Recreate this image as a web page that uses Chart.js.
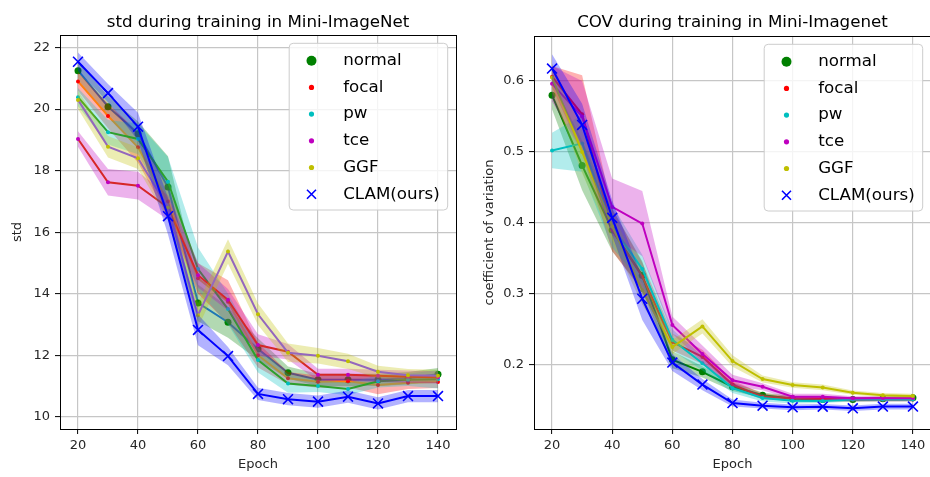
<!DOCTYPE html>
<html>
<head>
<meta charset="utf-8">
<script src="https://cdn.jsdelivr.net/npm/chart.js@4.4.0/dist/chart.umd.min.js"></script>
<style>
  html, body { margin: 0; padding: 0; background: #fff; overflow: hidden; }
  #wrap { position: relative; width: 930px; height: 477px; overflow: hidden; }
  canvas { position: absolute; top: 0; }
</style>
</head>
<body>
<div id="wrap">
  <canvas id="stdChart" width="465" height="477" style="left:0"></canvas>
  <canvas id="covChart" width="470" height="477" style="left:465px"></canvas>
</div>
<script>
// epochs and tick labels
const EPOCHS = [20, 30, 40, 50, 60, 70, 80, 90, 100, 110, 120, 130, 140];
const X_TICKS = [20, 40, 60, 80, 100, 120, 140];
const STD_Y_TICKS = [10, 12, 14, 16, 18, 20, 22];
const COV_Y_TICKS = [0.2, 0.3, 0.4, 0.5, 0.6];

const METHODS = ['normal', 'focal', 'pw', 'tce', 'GGF', 'CLAM(ours)'];

// std during training (mean line) + half width of shaded band
const STD_NORMAL = [21.25, 20.08, 19.2, 17.47, 13.7, 13.07, 12.2, 11.43, 11.2, 11.2, 11.2, 11.25, 11.38];
const STD_FOCAL  = [20.9, 19.78, 18.76, 17.0, 14.5, 13.74, 12.0, 11.25, 11.14, 11.15, 11.03, 11.1, 11.13];
const STD_PW     = [20.39, 19.25, 19.03, 17.64, 14.8, 13.5, 11.84, 11.08, 11.0, 10.9, 11.15, 11.2, 11.22];
const STD_TCE    = [19.03, 17.62, 17.51, 16.8, 14.6, 13.8, 12.33, 12.11, 11.36, 11.36, 11.33, 11.3, 11.28];
const STD_GGF    = [20.3, 18.78, 18.4, 16.8, 13.3, 15.37, 13.33, 12.08, 11.98, 11.8, 11.46, 11.35, 11.33];
const STD_CLAM   = [21.54, 20.52, 19.43, 16.52, 12.82, 11.97, 10.74, 10.57, 10.49, 10.65, 10.43, 10.67, 10.67];

const STD_NORMAL_SPREAD = [0.3, 0.35, 0.4, 1.0, 0.6, 0.5, 0.35, 0.2, 0.2, 0.2, 0.2, 0.2, 0.2];
const STD_FOCAL_SPREAD  = [0.3, 0.4, 0.5, 0.5, 0.5, 0.7, 0.4, 0.2, 0.2, 0.2, 0.3, 0.2, 0.2];
const STD_PW_SPREAD     = [0.3, 0.4, 0.5, 0.8, 0.7, 0.5, 0.4, 0.3, 0.2, 0.2, 0.2, 0.2, 0.3];
const STD_TCE_SPREAD    = [0.25, 0.43, 0.45, 0.4, 0.4, 0.35, 0.35, 0.25, 0.2, 0.2, 0.2, 0.2, 0.2];
const STD_GGF_SPREAD    = [0.3, 0.35, 0.35, 0.4, 0.4, 0.4, 0.35, 0.3, 0.25, 0.25, 0.2, 0.2, 0.2];
const STD_CLAM_SPREAD   = [0.3, 0.3, 0.45, 0.6, 0.5, 0.3, 0.2, 0.2, 0.2, 0.2, 0.2, 0.2, 0.2];

// coefficient of variation during training
const COV_NORMAL = [0.58, 0.481, 0.39, 0.326, 0.207, 0.19, 0.169, 0.157, 0.152, 0.151, 0.151, 0.152, 0.1535];
const COV_FOCAL  = [0.606, 0.553, 0.39, 0.324, 0.232, 0.211, 0.172, 0.155, 0.1527, 0.152, 0.151, 0.151, 0.151];
const COV_PW     = [0.502, 0.512, 0.395, 0.335, 0.235, 0.202, 0.167, 0.153, 0.1493, 0.149, 0.151, 0.151, 0.151];
const COV_TCE    = [0.596, 0.55, 0.4225, 0.399, 0.256, 0.215, 0.178, 0.169, 0.155, 0.155, 0.1527, 0.153, 0.153];
const COV_GGF    = [0.605, 0.5, 0.395, 0.305, 0.225, 0.254, 0.2052, 0.1799, 0.1714, 0.168, 0.1606, 0.157, 0.156];
const COV_CLAM   = [0.6175, 0.538, 0.407, 0.293, 0.203, 0.172, 0.146, 0.1423, 0.14, 0.1408, 0.1386, 0.141, 0.141];

const COV_NORMAL_SPREAD = [0.02, 0.035, 0.03, 0.02, 0.012, 0.008, 0.006, 0.004, 0.004, 0.003, 0.003, 0.003, 0.003];
const COV_FOCAL_SPREAD  = [0.015, 0.055, 0.03, 0.02, 0.012, 0.01, 0.006, 0.004, 0.003, 0.003, 0.003, 0.003, 0.003];
const COV_PW_SPREAD     = [0.025, 0.04, 0.03, 0.02, 0.015, 0.01, 0.007, 0.005, 0.004, 0.003, 0.003, 0.003, 0.003];
const COV_TCE_SPREAD    = [0.025, 0.05, 0.04, 0.046, 0.012, 0.012, 0.008, 0.005, 0.004, 0.004, 0.003, 0.003, 0.003];
const COV_GGF_SPREAD    = [0.02, 0.03, 0.02, 0.02, 0.01, 0.01, 0.008, 0.005, 0.004, 0.004, 0.003, 0.003, 0.003];
const COV_CLAM_SPREAD   = [0.02, 0.03, 0.025, 0.03, 0.012, 0.008, 0.005, 0.004, 0.004, 0.004, 0.004, 0.004, 0.004];

// matplotlib single letter colours for markers / bands, default cycle for the std lines
const MARK_COLORS = ['#008000', '#ff0000', '#00bfbf', '#bf00bf', '#bfbf00', '#0000ff'];
const STD_LINE_COLORS = ['#1f77b4', '#ff7f0e', '#2ca02c', '#d62728', '#9467bd', '#0000ff'];

const FONT = 'DejaVu Sans';
const TEXT_COLOR = '#262626';
const GRID_COLOR = '#c6c6c6';

function hexToRgba(hex, a) {
  const n = parseInt(hex.slice(1), 16);
  return `rgba(${(n >> 16) & 255}, ${(n >> 8) & 255}, ${n & 255}, ${a})`;
}

function pointsOf(values, shift, sign) {
  return EPOCHS.map((x, k) => ({ x: x, y: values[k] + (shift ? sign * shift[k] : 0) }));
}

function buildDatasets(series, spreads, lineColors) {
  const sets = [];
  let seq = 0;
  series.forEach((values, i) => {
    const isClam = i === 5;
    const isNormal = i === 0;
    sets.push({
      data: pointsOf(values, spreads[i], 1),
      borderColor: 'transparent', borderWidth: 0, pointRadius: 0, fill: false,
      order: 100 - seq++
    });
    sets.push({
      data: pointsOf(values, spreads[i], -1),
      borderColor: 'transparent', borderWidth: 0, pointRadius: 0,
      fill: '-1', backgroundColor: hexToRgba(MARK_COLORS[i], 0.3),
      order: 100 - seq++
    });
    sets.push({
      label: METHODS[i],
      data: pointsOf(values),
      borderColor: lineColors[i],
      borderWidth: 2,
      fill: false,
      pointStyle: isClam ? 'crossRot' : 'circle',
      pointRadius: isClam ? 7 : (isNormal ? 3.5 : 2),
      pointBorderWidth: isClam ? 1.6 : 0,
      pointBackgroundColor: MARK_COLORS[i],
      pointBorderColor: MARK_COLORS[i],
      order: 100 - seq++
    });
  });
  return sets;
}

// title over the plot area, full box frame, legend box in the upper right
function decorPlugin(title) {
  return {
    id: 'decor',
    afterDatasetsDraw(chart) {
      const { ctx, chartArea: a } = chart;
      ctx.save();
      ctx.strokeStyle = '#000';
      ctx.lineWidth = 1;
      ctx.strokeRect(Math.round(a.left) + 0.5, Math.round(a.top) + 0.5,
        Math.round(a.right - a.left), Math.round(a.bottom - a.top));
      ctx.restore();
    },
    afterDraw(chart) {
      const { ctx, chartArea: a } = chart;
      ctx.save();
      ctx.fillStyle = '#000';
      ctx.font = `16.7px "${FONT}"`;
      ctx.textAlign = 'center';
      ctx.textBaseline = 'alphabetic';
      ctx.fillText(title, (a.left + a.right) / 2, 26.5);

      const textW = Math.max(...METHODS.map(m => ctx.measureText(m).width));
      const w = 54 + textW + 8, h = 166.7;
      const x0 = a.right - 8.3 - w, y0 = a.top + 8.3;
      ctx.beginPath();
      ctx.roundRect(x0, y0, w, h, 4);
      ctx.fillStyle = 'rgba(255,255,255,0.8)';
      ctx.fill();
      ctx.strokeStyle = '#cccccc';
      ctx.lineWidth = 1;
      ctx.stroke();

      METHODS.forEach((m, i) => {
        const cy = y0 + 17.4 + i * 26.7;
        const cx = x0 + 22.3;
        if (i === 5) {
          ctx.strokeStyle = MARK_COLORS[i];
          ctx.lineWidth = 1.6;
          ctx.beginPath();
          ctx.moveTo(cx - 4.5, cy - 4.5); ctx.lineTo(cx + 4.5, cy + 4.5);
          ctx.moveTo(cx - 4.5, cy + 4.5); ctx.lineTo(cx + 4.5, cy - 4.5);
          ctx.stroke();
        } else {
          ctx.fillStyle = MARK_COLORS[i];
          ctx.beginPath();
          ctx.arc(cx, cy, i === 0 ? 5 : 2.6, 0, Math.PI * 2);
          ctx.fill();
        }
        ctx.fillStyle = '#000';
        ctx.textAlign = 'left';
        ctx.textBaseline = 'middle';
        ctx.fillText(m, x0 + 54, cy);
      });
      ctx.restore();
    }
  };
}

function makeChart(canvas, opts) {
  return new Chart(canvas, {
    type: 'line',
    data: { datasets: buildDatasets(opts.series, opts.spreads, opts.lineColors) },
    options: {
      responsive: false,
      animation: false,
      layout: { autoPadding: false, padding: { left: 0, right: opts.padRight, top: opts.padTop, bottom: 0 } },
      elements: { line: { tension: 0 } },
      plugins: { legend: { display: false }, tooltip: { enabled: false }, title: { display: false } },
      scales: {
        x: {
          type: 'linear', min: 14, max: 146,
          afterBuildTicks: s => { s.ticks = X_TICKS.map(v => ({ value: v })); },
          afterFit: s => { s.height = 48; s.paddingLeft = 0; s.paddingRight = 0; },
          grid: { color: GRID_COLOR, lineWidth: 1.2, tickColor: '#000', tickLength: 5, tickWidth: 1 },
          border: { display: false },
          ticks: { color: TEXT_COLOR, font: { family: FONT, size: 13 }, padding: 4, maxRotation: 0,
                   callback: v => String(v) },
          title: { display: true, text: 'Epoch', color: TEXT_COLOR, font: { family: FONT, size: 13 },
                   padding: { top: 0, bottom: 5 } }
        },
        y: {
          min: opts.yMin, max: opts.yMax,
          afterBuildTicks: s => { s.ticks = opts.yTicks.map(v => ({ value: v })); },
          afterFit: s => { s.width = opts.yWidth; s.paddingTop = 0; s.paddingBottom = 0; },
          grid: { color: GRID_COLOR, lineWidth: 1.2, tickColor: '#000', tickLength: 5, tickWidth: 1 },
          border: { display: false },
          ticks: { color: TEXT_COLOR, font: { family: FONT, size: 13 }, padding: 5,
                   callback: v => opts.yLabel(v) },
          title: { display: true, text: opts.yTitle, color: TEXT_COLOR, font: { family: FONT, size: 13 },
                   padding: { top: opts.yTitlePad, bottom: 0 } }
        }
      }
    },
    plugins: [decorPlugin(opts.title)]
  });
}

makeChart(document.getElementById('stdChart'), {
  title: 'std during training in Mini-ImageNet',
  series: [STD_NORMAL, STD_FOCAL, STD_PW, STD_TCE, STD_GGF, STD_CLAM],
  spreads: [STD_NORMAL_SPREAD, STD_FOCAL_SPREAD, STD_PW_SPREAD, STD_TCE_SPREAD, STD_GGF_SPREAD, STD_CLAM_SPREAD],
  lineColors: STD_LINE_COLORS,
  yMin: 9.6, yMax: 22.41, yTicks: STD_Y_TICKS, yLabel: v => String(v),
  yTitle: 'std', yTitlePad: 10, yWidth: 60, padRight: 9, padTop: 35
});

makeChart(document.getElementById('covChart'), {
  title: 'COV during training in Mini-Imagenet',
  series: [COV_NORMAL, COV_FOCAL, COV_PW, COV_TCE, COV_GGF, COV_CLAM],
  spreads: [COV_NORMAL_SPREAD, COV_FOCAL_SPREAD, COV_PW_SPREAD, COV_TCE_SPREAD, COV_GGF_SPREAD, COV_CLAM_SPREAD],
  lineColors: MARK_COLORS,
  yMin: 0.1094, yMax: 0.6634, yTicks: COV_Y_TICKS, yLabel: v => v.toFixed(1),
  yTitle: 'coefficient of variation', yTitlePad: 17, yWidth: 69, padRight: 4, padTop: 36
});
</script>
</body>
</html>
